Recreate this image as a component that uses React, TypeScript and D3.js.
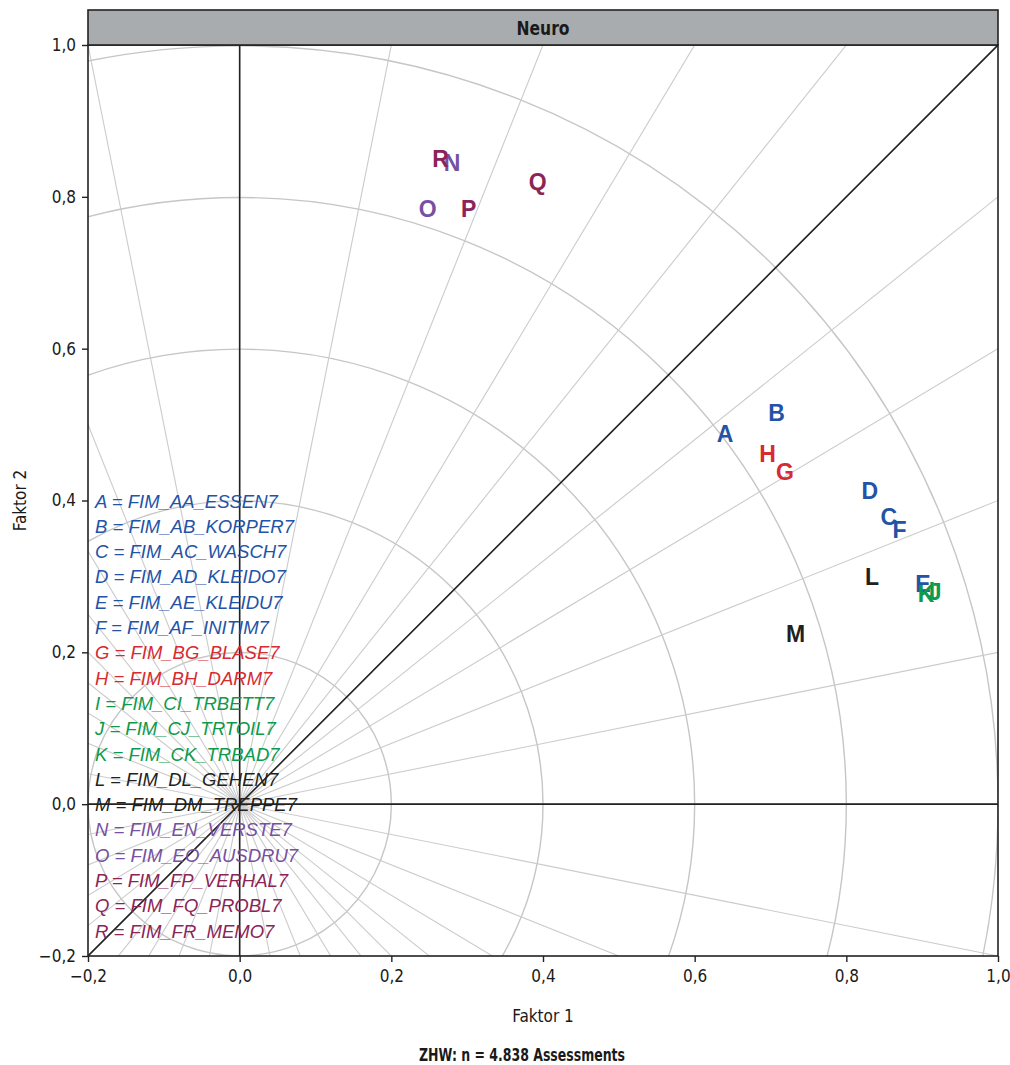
import React, { useEffect, useRef } from 'react';
import * as d3 from 'd3';

// item codes, loadings on the two factors
const letters = ['A', 'B', 'C', 'D', 'E', 'F', 'G', 'H', 'I', 'J', 'K', 'L', 'M', 'N', 'O', 'P', 'Q', 'R'];
const itemNames = [
  'FIM_AA_ESSEN7', 'FIM_AB_KORPER7', 'FIM_AC_WASCH7', 'FIM_AD_KLEIDO7', 'FIM_AE_KLEIDU7', 'FIM_AF_INITIM7',
  'FIM_BG_BLASE7', 'FIM_BH_DARM7', 'FIM_CI_TRBETT7', 'FIM_CJ_TRTOIL7', 'FIM_CK_TRBAD7', 'FIM_DL_GEHEN7',
  'FIM_DM_TREPPE7', 'FIM_EN_VERSTE7', 'FIM_EO_AUSDRU7', 'FIM_FP_VERHAL7', 'FIM_FQ_PROBL7', 'FIM_FR_MEMO7'
];
const faktor1 = [0.640, 0.708, 0.856, 0.831, 0.901, 0.870, 0.719, 0.696, 0.913, 0.917, 0.905, 0.834, 0.733, 0.280, 0.248, 0.302, 0.393, 0.265];
const faktor2 = [0.487, 0.515, 0.378, 0.412, 0.290, 0.361, 0.437, 0.461, 0.281, 0.279, 0.277, 0.299, 0.224, 0.845, 0.784, 0.784, 0.820, 0.850];
const groups = ['A', 'A', 'A', 'A', 'A', 'A', 'B', 'B', 'C', 'C', 'C', 'D', 'D', 'E', 'E', 'F', 'F', 'F'];
const groupColors = { A: '#2353a6', B: '#d52b31', C: '#0d9a4c', D: '#231f20', E: '#7650a1', F: '#8b2558' };

const ticks = [-0.2, 0, 0.2, 0.4, 0.6, 0.8, 1.0];
const radii = [0.2, 0.4, 0.6, 0.8, 1.0];
const panelTitle = 'Neuro';
const caption = 'ZHW: n = 4.838 Assessments';

const deFormat = d3.formatLocale({ decimal: ',', thousands: '.', grouping: [3], currency: ['', ''], minus: '\u2212' }).format('.1f');

export default function App() {
  const ref = useRef(null);

  useEffect(() => {
    const svg = d3.select(ref.current);
    svg.selectAll('*').remove();

    const width = 1010, height = 1065;
    const margin = { top: 45, right: 12, bottom: 109, left: 88 };
    const w = width - margin.left - margin.right;
    const h = height - margin.top - margin.bottom;
    const condensed = '"DejaVu Sans", sans-serif';
    const helv = '"Liberation Sans", Arial, sans-serif';
    const ink = '#1a1a1a';

    const x = d3.scaleLinear().domain([-0.2, 1.0]).range([0, w]);
    const y = d3.scaleLinear().domain([-0.2, 1.0]).range([h, 0]);

    svg.append('rect').attr('width', width).attr('height', height).attr('fill', '#fff');

    svg.append('defs').append('clipPath').attr('id', 'plotclip')
      .append('rect').attr('width', w).attr('height', h);

    const g = svg.append('g').attr('transform', `translate(${margin.left},${margin.top})`);
    const grid = g.append('g').attr('clip-path', 'url(#plotclip)');

    // circles around origin
    grid.selectAll('circle.ring')
      .data(radii)
      .join('circle')
      .attr('class', 'ring')
      .attr('cx', x(0))
      .attr('cy', y(0))
      .attr('r', d => x(d) - x(0))
      .attr('fill', 'none')
      .attr('stroke', '#c6c6c6')
      .attr('stroke-width', 1.4);

    // rays from origin to square border points every 0.2
    const steps = d3.range(-5, 5).map(k => k * 0.2);
    const dirs = [
      ...steps.map(s => [1, s]),
      ...steps.map(s => [-s, 1])
    ];
    grid.selectAll('line.ray')
      .data(dirs)
      .join('line')
      .attr('class', 'ray')
      .attr('x1', d => x(-2 * d[0]))
      .attr('y1', d => y(-2 * d[1]))
      .attr('x2', d => x(2 * d[0]))
      .attr('y2', d => y(2 * d[1]))
      .attr('stroke', '#cbcbcb')
      .attr('stroke-width', 1.1);

    // axes through origin + diagonal
    const dark = '#222';
    grid.append('line').attr('x1', x(0)).attr('x2', x(0)).attr('y1', 0).attr('y2', h).attr('stroke', dark).attr('stroke-width', 1.6);
    grid.append('line').attr('x1', 0).attr('x2', w).attr('y1', y(0)).attr('y2', y(0)).attr('stroke', dark).attr('stroke-width', 1.6);
    grid.append('line').attr('x1', x(-0.2)).attr('y1', y(-0.2)).attr('x2', x(1)).attr('y2', y(1)).attr('stroke', dark).attr('stroke-width', 1.6);

    // legend
    g.selectAll('text.legend')
      .data(letters)
      .join('text')
      .attr('class', 'legend')
      .attr('x', 7)
      .attr('y', (d, i) => 456 + i * 25.3)
      .attr('dominant-baseline', 'central')
      .attr('font-family', helv)
      .attr('font-style', 'italic')
      .attr('font-size', 18.5)
      .attr('fill', (d, i) => groupColors[groups[i]])
      .text((d, i) => `${d} = ${itemNames[i]}`);

    // point labels
    g.selectAll('text.pt')
      .data(letters)
      .join('text')
      .attr('class', 'pt')
      .attr('x', (d, i) => x(faktor1[i]))
      .attr('y', (d, i) => y(faktor2[i]))
      .attr('text-anchor', 'middle')
      .attr('dominant-baseline', 'central')
      .attr('font-family', helv)
      .attr('font-weight', 'bold')
      .attr('font-size', 23)
      .attr('fill', (d, i) => groupColors[groups[i]])
      .text(d => d);

    // frame
    g.append('rect').attr('width', w).attr('height', h).attr('fill', 'none').attr('stroke', dark).attr('stroke-width', 1.6);

    // strip header
    g.append('rect').attr('x', 0).attr('y', -35).attr('width', w).attr('height', 35)
      .attr('fill', '#a9acaf').attr('stroke', dark).attr('stroke-width', 1.6);
    g.append('text').attr('x', w / 2).attr('y', -17).attr('text-anchor', 'middle').attr('dominant-baseline', 'central')
      .attr('font-family', condensed).attr('font-stretch', 'condensed').attr('font-weight', 'bold').attr('font-size', 19).attr('fill', ink)
      .attr('textLength', 53).attr('lengthAdjust', 'spacingAndGlyphs')
      .text(panelTitle);

    // axes
    const xAxis = g.append('g').attr('transform', `translate(0,${h})`)
      .call(d3.axisBottom(x).tickValues(ticks).tickFormat(deFormat).tickSize(6).tickPadding(8));
    const yAxis = g.append('g')
      .call(d3.axisLeft(y).tickValues(ticks).tickFormat(deFormat).tickSize(6).tickPadding(6));
    [xAxis, yAxis].forEach(a => {
      a.select('.domain').remove();
      a.selectAll('line').attr('stroke', dark).attr('stroke-width', 1.4);
      a.selectAll('text').attr('font-family', condensed).attr('font-stretch', 'condensed').attr('font-size', 17).attr('fill', ink);
    });

    g.append('text').attr('x', w / 2).attr('y', h + 60).attr('text-anchor', 'middle').attr('dominant-baseline', 'central')
      .attr('font-family', condensed).attr('font-stretch', 'condensed').attr('font-size', 17).attr('fill', ink).text('Faktor 1');
    g.append('text').attr('transform', `translate(${-68},${h / 2}) rotate(-90)`).attr('text-anchor', 'middle')
      .attr('dominant-baseline', 'central')
      .attr('font-family', condensed).attr('font-stretch', 'condensed').attr('font-size', 17).attr('fill', ink).text('Faktor 2');

    svg.append('text').attr('x', 522).attr('y', 1054).attr('text-anchor', 'middle').attr('dominant-baseline', 'central')
      .attr('font-family', condensed).attr('font-stretch', 'condensed').attr('font-weight', 'bold').attr('font-size', 18).attr('fill', ink)
      .attr('textLength', 206).attr('lengthAdjust', 'spacingAndGlyphs')
      .text(caption);
  }, []);

  return <svg ref={ref} width={1010} height={1065} style={{ position: 'absolute', left: 0, top: 0 }} />;
}
